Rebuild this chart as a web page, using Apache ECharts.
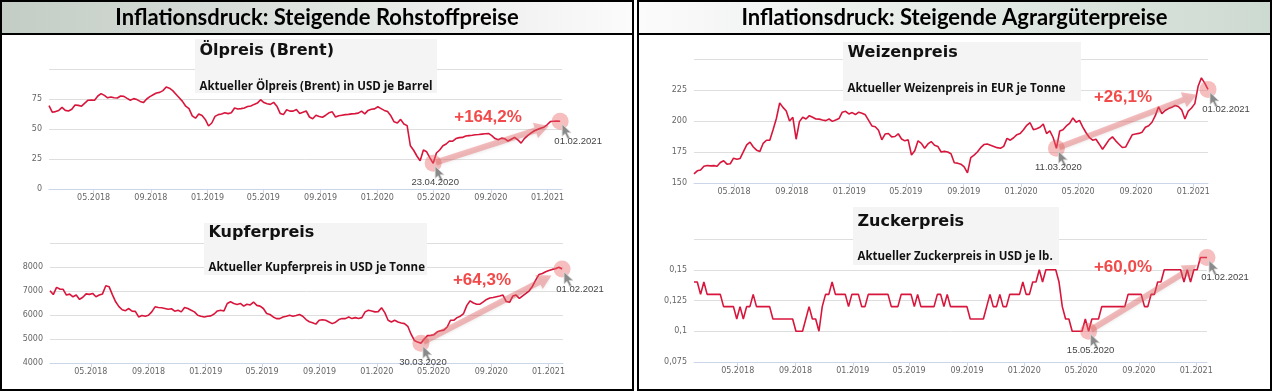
<!DOCTYPE html>
<html><head><meta charset="utf-8">
<script src="https://cdn.jsdelivr.net/npm/echarts@6/dist/echarts.min.js"></script>
<style>html,body{margin:0;padding:0;background:#fff}#c{width:1273px;height:392px}</style>
</head><body><div id="c"></div><script>
// ---------- DATA ----------
const tickLabels = ['05.2018','09.2018','01.2019','05.2019','09.2019','01.2020','05.2020','09.2020','01.2021'];
const stepDays = 7; // weekly samples

const oilStart = '2018-01-25', oilEnd = '2021-02-01';
const oilValues = [69.5,64,64.5,65.5,68,65.5,65,66.5,70,69.7,
 69,71.5,74,74.2,74,77.5,79.5,78,76,76.7,
 76,75.8,77.5,77.2,75.5,74,75.3,74.5,73,72,
 75,77,78.5,80,80.5,82,85,84,82,79,
 76,73,69,67,61,59,62.5,61.2,58,52.5,
 55,60.5,62,62.5,63.5,62.8,63.5,67.5,66.6,67,
 67.5,68.8,69.2,70.5,71.6,74.4,72,71,70.5,72.2,
 69,63,62,66,64.9,64.9,66.3,63,64,65,
 60,58.5,61.5,60.5,59.8,61.5,63.5,64.3,60,61,
 61.5,62,62.2,62.6,62.8,63.2,64.9,62.6,65.5,66.5,
 66.8,68.5,67,65.5,64.5,61,56,55,58,54.2,
 52.8,36,32.3,27.5,23.5,32.5,31,26,21.4,30,
 32.5,36,37.5,40,39.8,42,42.8,43,44.2,44.5,
 44.8,45.2,45.4,45.7,46,46.3,44.5,42,41,42.4,
 41.8,40,41.5,43,41,38.2,42,44.5,46.5,48.3,
 49.5,50.6,51.5,53.5,56.2,56.5,56.6,56.5];

const copperStart = '2018-02-03', copperEnd = '2021-02-01';
const copperValues = [7010,6850,7150,7080,7070,6830,6870,6760,6830,6650,
 6740,6880,6860,6900,6760,6830,6880,7220,7180,6850,
 6550,6350,6220,6180,6270,6160,6150,5920,5980,5950,
 5990,6130,6340,6310,6300,6270,6240,6260,6160,6200,
 6130,6310,6270,6200,6130,5990,5950,5920,5950,5965,
 6040,6170,6200,6170,6480,6550,6480,6440,6480,6370,
 6450,6420,6540,6400,6370,6270,6060,6020,5920,5850,
 5850,5920,5950,5990,5950,5980,6020,5950,5810,5720,
 5680,5620,5780,5800,5780,5710,5640,5700,5810,5850,
 5850,5920,5850,5890,5850,5890,6130,6200,6170,6130,
 6140,6300,6100,5780,5710,5780,5710,5670,5640,5530,
 5200,4940,4870,4820,5000,5140,5150,5180,5300,5340,
 5370,5500,5780,5780,5890,5950,6060,6400,6590,6500,
 6450,6450,6550,6650,6710,6730,6760,6790,6830,6560,
 6530,6790,6830,6690,6800,6900,7010,7200,7460,7690,
 7730,7800,7850,7900,7930,7990,7920];

const wheatStart = '2018-02-05', wheatEnd = '2021-02-01';
const wheatValues = [157.3,159.8,160.5,163.5,164.1,163.8,164,163.5,166.5,168,
 165.2,165.5,170,169.2,169.8,175.3,180.8,183,179,176.5,
 175.5,182,184.5,184.5,193,202,214.5,211,208,200,
 203,185.3,199.5,203,201.6,204.3,203,201.6,201.5,200.8,
 200.3,201.6,199.7,200.8,202,207.1,207.8,205.7,206.8,205.2,
 207.1,206.2,205,200.5,196,195.4,192.5,184.8,189.5,189.9,
 187.2,187.5,189.7,185.5,184,184.8,172.6,176,184,182,
 178,181.5,183.4,180.5,179.5,175,175.5,175,173.6,166.3,
 166,165.2,163,158.2,170.5,172.5,175,178.5,181,181.5,
 180.5,179.5,178.5,178,179.5,186,184.5,186.5,189,189.9,
 193,196.5,198.6,193,193.8,195,197.6,189.9,192.1,186.7,
 178,192,193,196,198.1,202.5,199,200.5,195,190.5,
 186.7,184.5,185.3,181.3,177.2,181,185,187.2,184,181.3,
 178.6,179,184,188.9,189.5,190,191,195,196.2,199,
 204.3,211.5,206,208.5,210,211,212.5,211.7,209,201.6,
 208,210.5,214,228,234.8,230.5,225.5];

const sugarStart = '2018-01-28', sugarEnd = '2021-01-24';
const sugarValues = [0.14,0.14,0.13,0.14,0.13,0.13,0.13,0.13,0.13,0.12,
 0.12,0.12,0.12,0.11,0.12,0.11,0.12,0.12,0.13,0.12,
 0.12,0.12,0.12,0.12,0.11,0.11,0.11,0.11,0.11,0.11,
 0.11,0.10,0.10,0.10,0.11,0.12,0.11,0.11,0.10,0.12,
 0.13,0.13,0.14,0.13,0.13,0.13,0.13,0.12,0.13,0.13,
 0.13,0.12,0.12,0.13,0.13,0.13,0.13,0.13,0.13,0.13,
 0.12,0.12,0.12,0.13,0.13,0.13,0.13,0.12,0.13,0.12,
 0.12,0.12,0.12,0.12,0.13,0.13,0.12,0.13,0.12,0.12,
 0.12,0.12,0.12,0.12,0.11,0.11,0.11,0.11,0.11,0.12,
 0.13,0.12,0.12,0.13,0.12,0.12,0.13,0.13,0.13,0.13,
 0.14,0.13,0.13,0.14,0.14,0.15,0.14,0.15,0.15,0.15,
 0.15,0.14,0.12,0.11,0.11,0.10,0.10,0.10,0.10,0.11,
 0.10,0.11,0.11,0.11,0.12,0.12,0.12,0.12,0.12,0.12,
 0.12,0.12,0.13,0.13,0.13,0.13,0.13,0.12,0.12,0.13,
 0.13,0.14,0.14,0.15,0.15,0.15,0.15,0.15,0.15,0.14,
 0.15,0.14,0.15,0.15,0.16,0.16,0.16];

const headerTitles = ['Inflationsdruck: Steigende Rohstoffpreise', 'Inflationsdruck: Steigende Agrargüterpreise'];
const chartTitles = ['Ölpreis (Brent)', 'Kupferpreis', 'Weizenpreis', 'Zuckerpreis'];
const chartSubtitles = ['Aktueller Ölpreis (Brent) in USD je Barrel', 'Aktueller Kupferpreis in USD je Tonne',
  'Aktueller Weizenpreis in EUR je Tonne', 'Aktueller Zuckerpreis in USD je lb.'];
const changeLabels = ['+164,2%', '+64,3%', '+26,1%', '+60,0%'];
const startDateLabels = ['23.04.2020', '30.03.2020', '11.03.2020', '15.05.2020'];
const endDateLabels = ['01.02.2021', '01.02.2021', '01.02.2021', '01.02.2021'];
const startIndex = [118, 113, 110, 120];

// ---------- HELPERS ----------
const DAY = 86400000;
function utc(s){ const p = s.split('-').map(Number); return Date.UTC(p[0], p[1]-1, p[2]); }
function toSeries(start, vals){ const t0 = utc(start); return vals.map((v,i) => [t0 + i*stepDays*DAY, v]); }
const tickValues = tickLabels.map(l => { const p = l.split('.').map(Number); return Date.UTC(p[1], p[0]-1, 1); });
function tickText(v){ const i = tickValues.indexOf(v); return i >= 0 ? tickLabels[i] : ''; }

const panels = [
  {start: oilStart, end: oilEnd, values: oilValues, yMin: 0, yMax: 100, yStep: 25,
   grid: {left: 49, top: 69, width: 513, height: 120},
   box: [195, 39, 242, 54], titleY: 50.5, subY: 86.5, pct: [488, 117]},
  {start: copperStart, end: copperEnd, values: copperValues, yMin: 4000, yMax: 9000, yStep: 1000,
   grid: {left: 50, top: 243, width: 513, height: 120},
   box: [204, 223, 223, 52], titleY: 233, subY: 267.5, pct: [482, 280]},
  {start: wheatStart, end: wheatEnd, values: wheatValues, yMin: 150, yMax: 250, yStep: 25,
   grid: {left: 694, top: 59, width: 514, height: 124},
   box: [843, 42, 238, 59], titleY: 53, subY: 88.5, pct: [1123, 97]},
  {start: sugarStart, end: sugarEnd, values: sugarValues, yMin: 0.075, yMax: 0.175, yStep: 0.025,
   grid: {left: 694, top: 239, width: 513, height: 123},
   box: [853, 207, 206, 58], titleY: 221.5, subY: 257, pct: [1123, 267]}
];

const axisFont = 'DejaVu Sans';
const option = {
  animation: false,
  grid: panels.map(p => Object.assign({containLabel: false}, p.grid)),
  xAxis: panels.map((p, k) => ({
    type: 'value', gridIndex: k, min: utc(p.start), max: utc(p.end), scale: true,
    axisLine: {show: true, onZero: false, lineStyle: {color: '#ccd6eb', width: 1}},
    axisTick: {show: true, customValues: tickValues, length: 4, lineStyle: {color: '#ccd6eb'}},
    axisLabel: {customValues: tickValues, formatter: v => tickText(v), color: '#666',
      fontSize: 8, fontFamily: axisFont, margin: 5, hideOverlap: false},
    splitLine: {show: false}
  })),
  yAxis: panels.map((p, k) => ({
    type: 'value', gridIndex: k, min: p.yMin, max: p.yMax, interval: p.yStep,
    axisLine: {show: false}, axisTick: {show: false},
    splitLine: {show: true, lineStyle: {color: '#dedede', width: 1}},
    axisLabel: {showMaxLabel: false, color: '#666', fontSize: 8, fontFamily: axisFont, margin: 7,
      padding: [0, 0, 8, 0],
      formatter: v => String(+(+v).toFixed(3)).replace('.', ',')}
  })),
  series: panels.map((p, k) => ({
    type: 'line', xAxisIndex: k, yAxisIndex: k, data: toSeries(p.start, p.values),
    showSymbol: false, silent: true, lineStyle: {color: '#d8163c', width: 1.6}, z: 3
  }))
};

const chart = echarts.init(document.getElementById('c'), null, {renderer: 'canvas'});
chart.setOption(option);

// ---------- GRAPHICS ----------
const els = [];
function grad(c0, c1){ return {type: 'linear', x: 0, y: 0, x2: 1, y2: 0, colorStops: [{offset: 0, color: c0}, {offset: 1, color: c1}]}; }
const headFont = 'bold 22px Lato, sans-serif';
els.push({type: 'rect', z: 20, shape: {x: 1, y: 1, width: 632, height: 33}, style: {fill: grad('#c3ccc5', '#fbfbfb')}});
els.push({type: 'rect', z: 20, shape: {x: 638, y: 1, width: 633, height: 33}, style: {fill: grad('#fbfbfb', '#cddad1')}});
els.push({type: 'text', z: 22, x: 317, y: 18, style: {text: headerTitles[0], font: headFont, fill: '#000', textAlign: 'center', textVerticalAlign: 'middle'}});
els.push({type: 'text', z: 22, x: 954.5, y: 18, style: {text: headerTitles[1], font: headFont, fill: '#000', textAlign: 'center', textVerticalAlign: 'middle'}});

panels.forEach((p, k) => {
  const b = p.box;
  els.push({type: 'rect', z: 20, shape: {x: b[0], y: b[1], width: b[2], height: b[3]}, style: {fill: '#f4f4f4'}});
  els.push({type: 'text', z: 22, x: b[0] + 4.5, y: p.titleY, style: {text: chartTitles[k], font: 'bold 16px "DejaVu Sans", sans-serif', fill: '#111', textAlign: 'left', textVerticalAlign: 'middle'}});
  els.push({type: 'text', z: 22, x: b[0] + 4.5, y: p.subY, style: {text: chartSubtitles[k], font: 'bold 11.5px "Open Sans", sans-serif', fill: '#111', textAlign: 'left', textVerticalAlign: 'middle'}});

  const si = startIndex[k];
  const t0 = utc(p.start);
  const li = p.values.length - 1;
  const s = chart.convertToPixel({gridIndex: k}, [t0 + si*stepDays*DAY, p.values[si]]);
  const e = chart.convertToPixel({gridIndex: k}, [t0 + li*stepDays*DAY, p.values[li]]);
  const dx = e[0] - s[0], dy = e[1] - s[1], L = Math.hypot(dx, dy);
  const ux = dx / L, uy = dy / L, nx = -uy, ny = ux;
  const a = [s[0] + ux*3, s[1] + uy*3];
  const tip = [e[0] - ux*12, e[1] - uy*12 + 1];
  const base = [tip[0] - ux*14, tip[1] - uy*14];
  const sw = 3, hw = 8;
  const pts = [
    [a[0] + nx*sw, a[1] + ny*sw], [base[0] + nx*sw, base[1] + ny*sw], [base[0] + nx*hw, base[1] + ny*hw],
    tip, [base[0] - nx*hw, base[1] - ny*hw], [base[0] - nx*sw, base[1] - ny*sw], [a[0] - nx*sw, a[1] - ny*sw]
  ];
  const pink = 'rgba(233,100,100,0.42)';
  els.push({type: 'circle', z: 30, shape: {cx: s[0], cy: s[1], r: 8.5}, style: {fill: pink}});
  els.push({type: 'circle', z: 30, shape: {cx: e[0], cy: e[1], r: 8.5}, style: {fill: pink}});
  els.push({type: 'polygon', z: 30, shape: {points: pts}, style: {fill: pink, shadowBlur: 3, shadowColor: 'rgba(0,0,0,0.18)', shadowOffsetY: 1}});
  const cur = [[0,0],[0,12],[3,9.5],[5.5,14.5],[7.5,13.5],[5,8.5],[9,8.5]];
  [s, e].forEach(c => {
    els.push({type: 'polygon', z: 31, shape: {points: cur.map(q => [c[0] + 2 + q[0], c[1] + 3 + q[1]])},
      style: {fill: '#8a8a8a', stroke: '#d8d8d8', lineWidth: 0.8}});
  });
  els.push({type: 'text', z: 31, x: s[0] + 2, y: s[1] + 19, style: {text: startDateLabels[k], font: '9.5px "Liberation Sans", Arial, sans-serif', fill: '#444', textAlign: 'center', textVerticalAlign: 'middle'}});
  els.push({type: 'text', z: 31, x: e[0] + 18, y: e[1] + 20, style: {text: endDateLabels[k], font: '9.5px "Liberation Sans", Arial, sans-serif', fill: '#444', textAlign: 'center', textVerticalAlign: 'middle'}});
  els.push({type: 'text', z: 31, x: p.pct[0], y: p.pct[1], style: {text: changeLabels[k], font: 'bold 17px "Liberation Sans", Arial, sans-serif', fill: '#f24a4a', textAlign: 'center', textVerticalAlign: 'middle'}});
});

const blk = {fill: 'none', stroke: '#000', lineWidth: 2};
els.push({type: 'rect', z: 40, shape: {x: 1, y: 1, width: 632, height: 389}, style: blk});
els.push({type: 'rect', z: 40, shape: {x: 638, y: 1, width: 633, height: 389}, style: blk});
els.push({type: 'line', z: 40, shape: {x1: 1, y1: 34, x2: 633, y2: 34}, style: {stroke: '#000', lineWidth: 2}});
els.push({type: 'line', z: 40, shape: {x1: 638, y1: 34, x2: 1271, y2: 34}, style: {stroke: '#000', lineWidth: 2}});

chart.setOption({graphic: {elements: els}});
</script></body></html>
